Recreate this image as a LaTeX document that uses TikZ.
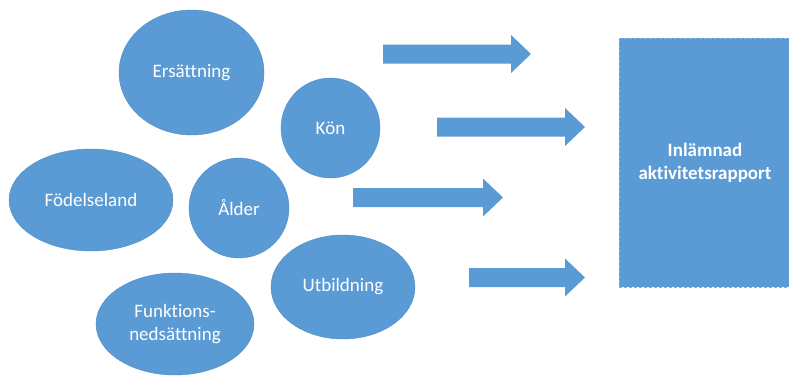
\documentclass[tikz,border=0pt]{standalone}
\usepackage{fontspec}
\setmainfont[RawFeature=-liga]{Carlito}
\usetikzlibrary{shapes.geometric}
\definecolor{myblue}{HTML}{5B9BD5}
\definecolor{myedge}{HTML}{4F8BC4}
\definecolor{rectedge}{HTML}{7FB0DE}
\newcommand\blkarrow[3]{%
  \fill[myblue] (#1,#3-9.5) -- (#2-20,#3-9.5) -- (#2-20,#3-19) -- (#2,#3)
    -- (#2-20,#3+19) -- (#2-20,#3+9.5) -- (#1,#3+9.5) -- cycle;}
\begin{document}
\begin{tikzpicture}[x=1pt,y=-1pt,
  bubble/.style={ellipse,fill=myblue,draw=myedge,line width=0.4pt,inner sep=0pt,
    text=white,align=center,font=\fontsize{19}{23}\selectfont},
  target/.style={rectangle,fill=myblue,draw=rectedge,densely dashed,line width=0.6pt,
    inner sep=0pt,text=white,align=center,font=\fontsize{19}{23}\selectfont\bfseries}]
\useasboundingbox[fill=white] (0,0) rectangle (789,378);
\node[bubble,minimum width=145pt,minimum height=125pt] (ers) at (191.5,72.5) {Ersättning};
\node[bubble,minimum width=99pt,minimum height=100pt] (kon) at (330.5,128) {Kön};
\node[bubble,minimum width=164pt,minimum height=102pt] (fod) at (91,200) {Födelseland};
\node[bubble,minimum width=100pt,minimum height=100pt] (ald) at (239,208) {Ålder};
\node[bubble,minimum width=144pt,minimum height=104pt] (utb) at (343,287) {Utbildning};
\node[bubble,minimum width=158pt,minimum height=102pt] (fun) at (175,324) {Funktions-\\nedsättning};
\node[target,minimum width=172pt,minimum height=249pt] (rap) at (705,162.5) {Inlämnad\\aktivitetsrapport};
\blkarrow{383}{531}{54}
\blkarrow{437}{585}{127}
\blkarrow{353}{503}{197.5}
\blkarrow{469}{585}{277.5}
\end{tikzpicture}
\end{document}
